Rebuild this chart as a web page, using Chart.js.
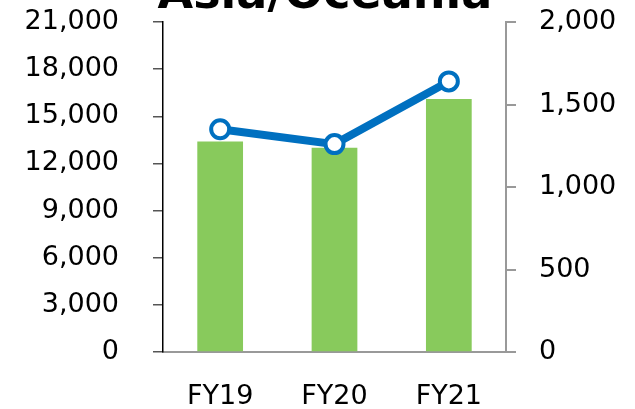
<!DOCTYPE html>
<html>
<head>
<meta charset="utf-8">
<script src="https://cdn.jsdelivr.net/npm/chart.js@4"></script>
<style>
  html, body { margin: 0; padding: 0; background: #fff; }
  #wrap { width: 635px; height: 409px; }
</style>
</head>
<body>
<div id="wrap"><canvas id="chart" width="635" height="409"></canvas></div>
<script>
const categories = ['FY19', 'FY20', 'FY21'];
const barValues = [13400, 13000, 16100];   // left axis
const lineValues = [1350, 1260, 1640];     // right axis
const titleText = 'Asia/Oceania';

const font = { family: '"DejaVu Sans", Verdana, sans-serif', size: 27 };

// title sits partly above the canvas edge in the reference
const titlePlugin = {
  id: 'cutTitle',
  afterDraw(chart) {
    const ctx = chart.ctx;
    ctx.save();
    ctx.font = 'bold 46px "DejaVu Sans", Verdana, sans-serif';
    ctx.fillStyle = '#000';
    ctx.textAlign = 'center';
    ctx.textBaseline = 'alphabetic';
    ctx.fillText(titleText, 325, 8);
    ctx.restore();
  }
};

new Chart(document.getElementById('chart'), {
  data: {
    labels: categories,
    datasets: [
      {
        type: 'line',
        data: lineValues,
        yAxisID: 'y2',
        borderColor: '#0070C0',
        borderWidth: 8,
        pointRadius: 9,
        pointBorderWidth: 4,
        pointBackgroundColor: '#fff',
        pointBorderColor: '#0070C0',
        order: 1
      },
      {
        type: 'bar',
        data: barValues,
        yAxisID: 'y',
        backgroundColor: '#88CA5C',
        categoryPercentage: 1,
        barPercentage: 0.4,
        order: 2
      }
    ]
  },
  options: {
    responsive: false,
    animation: false,
    layout: { padding: { top: 22, bottom: 0, left: 0, right: 0 } },
    plugins: { legend: { display: false }, tooltip: { enabled: false } },
    scales: {
      x: {
        grid: { display: false, drawTicks: false },
        border: { color: '#999', width: 2 },
        ticks: { color: '#000', font, padding: 29 },
        afterFit(s) { s.height = 57; }
      },
      y: {
        position: 'left',
        min: 0, max: 21000,
        ticks: { stepSize: 3000, color: '#000', font, padding: 34 },
        grid: { drawOnChartArea: false, tickLength: 10, color: '#555', lineWidth: 1.5 },
        border: { color: '#000', width: 1.5 },
        afterFit(s) { s.width = 163; s.paddingTop = 0; s.paddingBottom = 0; }
      },
      y2: {
        position: 'right',
        min: 0, max: 2000,
        ticks: { stepSize: 500, color: '#000', font, padding: 23 },
        grid: { drawOnChartArea: false, tickLength: 10, color: '#999', lineWidth: 2 },
        border: { color: '#999', width: 2 },
        afterFit(s) { s.width = 129; s.paddingTop = 0; s.paddingBottom = 0; }
      }
    }
  },
  plugins: [titlePlugin]
});
</script>
</body>
</html>
